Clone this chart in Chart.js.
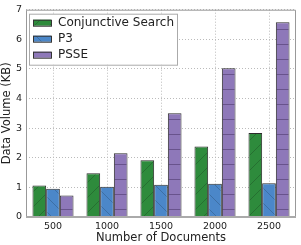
<!DOCTYPE html>
<html>
<head>
<meta charset="utf-8">
<script src="https://cdn.jsdelivr.net/npm/chart.js@4.4.0/dist/chart.umd.min.js"></script>
<style>
  html, body { margin: 0; padding: 0; background: #fff; }
</style>
</head>
<body>
<canvas id="myChart" width="301" height="245"></canvas>
<script>
const docCounts = ['500', '1000', '1500', '2000', '2500']
const conjunctive = [1.06, 1.48, 1.92, 2.38, 2.84]
const p3 = [0.95, 1.02, 1.09, 1.12, 1.14]
const psse = [0.73, 2.15, 3.5, 5.02, 6.58]
const yTicks = [0, 1, 2, 3, 4, 5, 6, 7]

function hatch(fill, line, kind){
  const s = 15
  const c = document.createElement('canvas')
  c.width = s; c.height = s
  const g = c.getContext('2d')
  g.fillStyle = fill
  g.fillRect(0, 0, s, s)
  g.strokeStyle = line
  g.lineWidth = 0.8
  g.beginPath()
  if (kind === '/') {
    g.moveTo(0, s); g.lineTo(s, 0)
    g.moveTo(-1, 1); g.lineTo(1, -1)
    g.moveTo(s-1, s+1); g.lineTo(s+1, s-1)
  } else if (kind === '\\') {
    g.moveTo(0, 0); g.lineTo(s, s)
    g.moveTo(s-1, -1); g.lineTo(s+1, 1)
    g.moveTo(-1, s-1); g.lineTo(1, s+1)
  } else {
    g.moveTo(0, s-0.5); g.lineTo(s, s-0.5)
  }
  g.stroke()
  return g.createPattern(c, 'repeat')
}

const font = 'DejaVu Sans'

const boxPlugin = {
  id: 'box',
  afterDatasetsDraw(chart){
    const {ctx, chartArea: a} = chart
    ctx.save()
    ctx.strokeStyle = '#999'
    ctx.lineWidth = 1
    ctx.beginPath()
    ctx.moveTo(a.left + 0.5, a.bottom)
    ctx.lineTo(a.left + 0.5, a.top + 0.5)
    ctx.lineTo(a.right - 0.5, a.top + 0.5)
    ctx.lineTo(a.right - 0.5, a.bottom)
    ctx.stroke()
    ctx.strokeStyle = '#aaa'
    ctx.lineWidth = 2
    ctx.beginPath()
    ctx.moveTo(a.left, a.bottom)
    ctx.lineTo(a.right, a.bottom)
    ctx.stroke()
    // legend
    const x0 = a.left + 3, y0 = a.top + 4
    ctx.fillStyle = '#fff'
    ctx.fillRect(x0, y0, 148, 51)
    ctx.strokeStyle = '#aaa'
    ctx.lineWidth = 1
    ctx.strokeRect(x0 + 0.5, y0 + 0.5, 148, 51)
    ctx.font = '12px "' + font + '"'
    ctx.textBaseline = 'middle'
    chart.data.datasets.forEach((ds, i) => {
      const cy = y0 + 9 + i * 16
      ctx.fillStyle = ds.backgroundColor
      ctx.fillRect(x0 + 4, cy - 3, 18, 6)
      ctx.strokeStyle = '#333'
      ctx.strokeRect(x0 + 4.5, cy - 2.5, 18, 6)
      ctx.fillStyle = '#222'
      ctx.fillText(ds.label, x0 + 29, cy)
    })
    ctx.restore()
  }
}

const ctx = document.querySelector('#myChart')
new Chart(ctx, {
  type: 'bar',
  data: {
    labels: docCounts,
    datasets: [
      { label: 'Conjunctive Search', data: conjunctive, backgroundColor: hatch('#2e8b3c', '#24692e', '/') },
      { label: 'P3', data: p3, backgroundColor: hatch('#4b87c9', '#3a6a9c', '\\') },
      { label: 'PSSE', data: psse, backgroundColor: hatch('#8e78b9', '#5e4a80', '-') }
    ].map(d => Object.assign(d, {
      borderColor: '#2b2b2b', borderWidth: 1,
      categoryPercentage: 0.76, barPercentage: 1
    }))
  },
  options: {
    responsive: false,
    animation: false,
    layout: { padding: { top: 8, right: 5, left: 0, bottom: 0 } },
    plugins: { legend: { display: false }, tooltip: { enabled: false } },
    scales: {
      x: {
        grid: { offset: false, color: '#bbb', drawTicks: false, lineWidth: 1 },
        border: { display: false, dash: [1, 2] },
        ticks: { color: '#222', font: { family: font, size: 9.5 }, padding: 4 },
        title: { display: true, text: 'Number of Documents', color: '#222', font: { family: font, size: 11.5 }, padding: 0 },
        afterFit(s){ s.height = 28 }
      },
      y: {
        min: 0, max: 7,
        afterBuildTicks(s){ s.ticks = yTicks.map(v => ({ value: v })) },
        grid: { color: '#bbb', drawTicks: false, lineWidth: 1 },
        border: { display: false, dash: [1, 2] },
        ticks: { color: '#222', font: { family: font, size: 9.5 }, padding: 4 },
        title: { display: true, text: 'Data Volume (KB)', color: '#222', font: { family: font, size: 11.5 }, padding: 0 },
        afterFit(s){ s.width = 26 }
      }
    }
  },
  plugins: [boxPlugin]
})
</script>
</body>
</html>
